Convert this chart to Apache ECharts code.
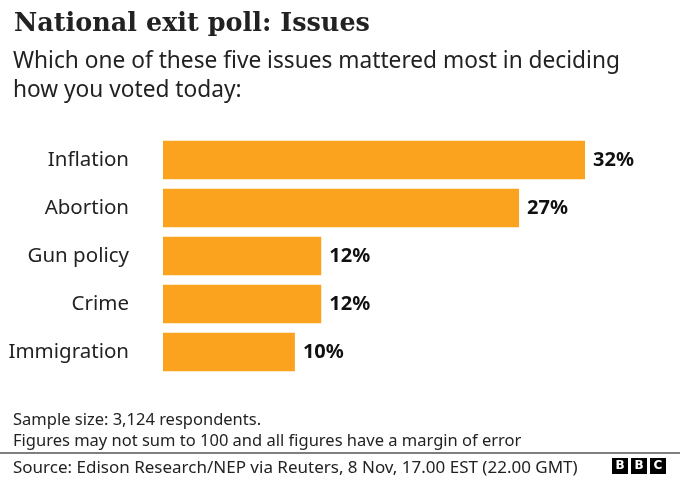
<!DOCTYPE html>
<html>
<head>
<meta charset="utf-8">
<script src="https://cdn.jsdelivr.net/npm/echarts@6/dist/echarts.min.js"></script>
<style>
    html, body { margin: 0; padding: 0; background: #fff; }
    #chart { width: 680px; height: 478px; }
</style>
</head>
<body>
<div id="chart"></div>
<script>
// data
const categories = ['Inflation', 'Abortion', 'Gun policy', 'Crime', 'Immigration'];
const shares = [32, 27, 12, 12, 10];

const titleText = 'National exit poll: Issues';
const subtitleLines = ['Which one of these five issues mattered most in deciding', 'how you voted today:'];
const noteLines = ['Sample size: 3,124 respondents.', 'Figures may not sum to 100 and all figures have a margin of error'];
const sourceText = 'Source: Edison Research/NEP via Reuters, 8 Nov, 17.00 EST (22.00 GMT)';

const sans = '"Noto Sans", sans-serif';
const serif = '"DejaVu Serif", serif';

window.onload = function () {
    let chart = echarts.init(document.getElementById('chart'));

    // BBC blocks in bottom right
    let logo = [];
    ['B', 'B', 'C'].forEach((ch, i) => {
        logo.push({
            type: 'rect',
            shape: { x: 612 + i * 19, y: 458, width: 16, height: 16 },
            style: { fill: '#000' }
        });
        logo.push({
            type: 'text',
            x: 620 + i * 19, y: 466,
            style: {
                text: ch, fill: '#fff', font: 'bold 12px "DejaVu Sans"',
                align: 'center', verticalAlign: 'middle'
            }
        });
    });

    let option = {
        animation: false,
        backgroundColor: '#fff',
        title: [
            {
                text: titleText, left: 9, top: 6,
                textStyle: { fontFamily: serif, fontWeight: 'bold', fontSize: 25.5, color: '#222' }
            },
            {
                text: subtitleLines.join('\n'), left: 8, top: 42,
                textStyle: { fontFamily: sans, fontWeight: 'normal', fontSize: 22.7, color: '#222', lineHeight: 29 }
            },
            {
                text: noteLines.join('\n'), left: 8, top: 405,
                textStyle: { fontFamily: sans, fontWeight: 'normal', fontSize: 16.5, color: '#222', lineHeight: 21 }
            },
            {
                text: sourceText, left: 8, top: 455,
                textStyle: { fontFamily: sans, fontWeight: 'normal', fontSize: 17, color: '#222' }
            }
        ],
        grid: { left: 163, right: 95, top: 136, height: 240 },
        xAxis: {
            type: 'value', min: 0, max: 32, show: false
        },
        yAxis: {
            type: 'category',
            data: categories,
            inverse: true,
            axisLine: { show: false },
            axisTick: { show: false },
            axisLabel: { margin: 34, fontFamily: sans, fontSize: 20.5, color: '#222' }
        },
        series: [
            {
                type: 'bar',
                data: shares,
                barCategoryGap: '20%',
                itemStyle: { color: '#FBA21E' },
                label: {
                    show: true, position: 'right', distance: 8,
                    formatter: '{c}%',
                    fontFamily: sans, fontWeight: 'bold', fontSize: 20, color: '#111'
                }
            }
        ],
        graphic: [
            {
                type: 'line',
                shape: { x1: 0, y1: 453, x2: 680, y2: 453 },
                style: { stroke: '#555', lineWidth: 1.5 }
            }
        ].concat(logo)
    };
    chart.setOption(option);
}
</script>
</body>
</html>
